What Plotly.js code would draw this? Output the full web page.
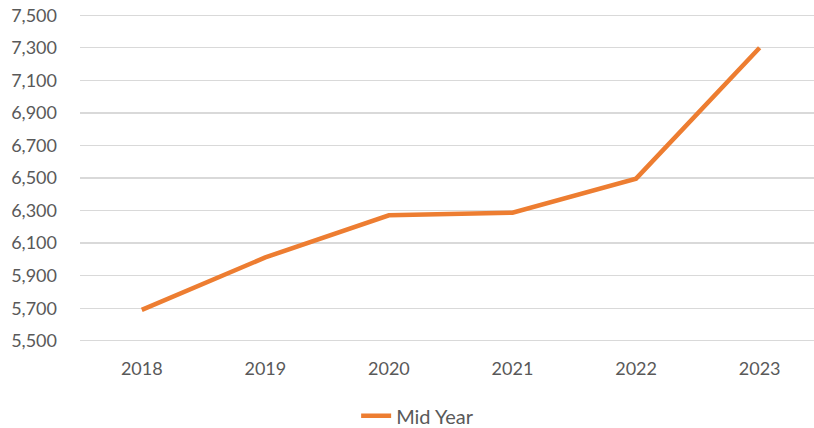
<!DOCTYPE html>
<html>
<head>
<meta charset="utf-8">
<script src="https://cdn.plot.ly/plotly-3.0.1.min.js"></script>
<style>html,body{margin:0;padding:0;background:#fff;}#chart{width:814px;height:428px;}</style>
</head>
<body>
<div id="chart"></div>
<script>
const years = ["2018", "2019", "2020", "2021", "2022", "2023"];
const midYear = [5690, 6012, 6271, 6287, 6496, 7300];
const yTicks = [5500, 5700, 5900, 6100, 6300, 6500, 6700, 6900, 7100, 7300, 7500];
const seriesName = "Mid Year";

const trace = {
  x: years,
  y: midYear,
  type: "scatter",
  mode: "lines",
  name: seriesName,
  line: {color: "#ED7D31", width: 4.5, shape: "linear"},
  showlegend: true
};

const layout = {
  width: 814,
  height: 428,
  margin: {l: 80, r: 0, t: 11.7, b: 83.8, autoexpand: false},
  paper_bgcolor: "#ffffff",
  plot_bgcolor: "#ffffff",
  font: {family: "Lato, 'Open Sans', sans-serif", size: 18, color: "#595959"},
  showlegend: true,
  legend: {
    orientation: "h",
    x: 0.46, xanchor: "center",
    y: -0.216, yanchor: "middle",
    font: {size: 20, color: "#595959"}
  },
  xaxis: {
    type: "category",
    range: [-0.5, 5.44],
    showgrid: false,
    zeroline: false,
    showline: false,
    ticks: "",
    ticklabelstandoff: 12,
    fixedrange: true
  },
  yaxis: {
    range: [5480, 7520],
    tickvals: yTicks,
    tickformat: ",d",
    showgrid: true,
    gridcolor: "#d9d9d9",
    gridwidth: 1.3,
    zeroline: false,
    showline: false,
    ticks: "",
    ticklabelstandoff: 22,
    fixedrange: true
  }
};

Plotly.newPlot("chart", [trace], layout, {displayModeBar: false, staticPlot: true});
</script>
</body>
</html>
